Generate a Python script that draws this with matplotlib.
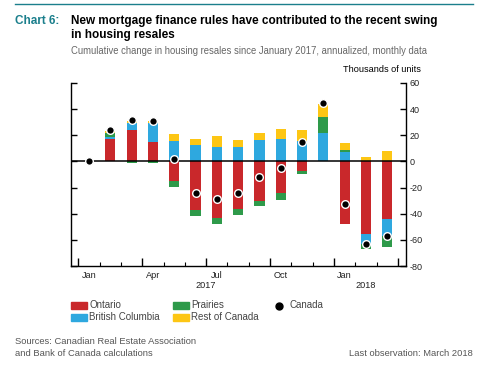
import numpy as np
import matplotlib
matplotlib.use('Agg')
import matplotlib.pyplot as plt
from matplotlib.patches import Rectangle
from matplotlib.lines import Line2D

plt.rcParams["font.family"] = ["Liberation Sans", "DejaVu Sans"]

months = ['Jan', 'Feb', 'Mar', 'Apr', 'May', 'Jun', 'Jul', 'Aug', 'Sep',
          'Oct', 'Nov', 'Dec', 'Jan', 'Feb', 'Mar']
ontario = [0, 17.0, 23.7, 14.8, -15.3, -37.5, -43.4, -36.2, -30.6, -24.0, -7.4, 0, -47.7, -55.4, -43.9]
british_columbia = [0, 1.5, 5.9, 14.8, 15.3, 12.2, 11.0, 11.0, 16.1, 17.3, 15.3, 21.9, 7.1, -7.7, -12.8]
prairies = [0, 3.0, -1.0, -1.0, -4.3, -4.3, -4.8, -4.6, -3.8, -5.8, -2.0, 12.0, 1.3, -3.8, -8.4]
rest_of_canada = [0, 1.5, 1.5, 1.5, 5.9, 5.1, 8.4, 5.1, 5.8, 7.2, 8.4, 10.2, 5.9, 3.3, 7.7]
canada = [0, 23.7, 31.4, 30.9, 2.0, -24.2, -28.6, -24.2, -12.2, -5.1, 14.8, 44.6, -32.9, -63.0, -57.1]

series = [
    ('Ontario', ontario, '#c9282b'),
    ('British Columbia', british_columbia, '#2ea8df'),
    ('Prairies', prairies, '#2e9a4a'),
    ('Rest of Canada', rest_of_canada, '#fdc614'),
]
teal = '#1b7f8c'
grey = '#555555'

fig = plt.figure(figsize=(4.96, 3.67), dpi=100)
ax = fig.add_axes([0.143, 0.275, 0.6755, 0.499])

x = np.arange(len(months))
pos = np.zeros(len(months))
neg = np.zeros(len(months))
for name, vals, color in series:
    v = np.array(vals, dtype=float)
    bottom = np.where(v >= 0, pos, neg)
    ax.bar(x, v, 0.48, bottom=bottom, color=color, linewidth=0, zorder=2)
    pos = pos + np.clip(v, 0, None)
    neg = neg + np.clip(v, None, 0)

ax.axhline(0, color='black', lw=1.1, zorder=3)
ax.plot(x, canada, 'o', color='black', markersize=5.5, markeredgecolor='white',
        markeredgewidth=1.0, zorder=4)

ax.set_xlim(-0.85, 14.88)
ax.set_ylim(-80, 60)
ax.spines['top'].set_visible(False)
for s in ['left', 'right', 'bottom']:
    ax.spines[s].set_linewidth(1.0)

ax.yaxis.tick_right()
ax.set_yticks(np.arange(-80, 61, 20))
ax.set_yticklabels([str(t) for t in range(-80, 61, 20)], fontsize=6.5, color='#222222')
ax.tick_params(axis='y', which='both', direction='in', length=4.5, width=1.0,
               left=True, right=True, labelleft=False, labelright=True, pad=2.5)

ax.set_xticks(np.arange(-0.5, 15, 3))
ax.set_xticks(np.arange(-0.5, 15, 1), minor=True)
ax.set_xticklabels([])
ax.tick_params(axis='x', which='major', direction='in', length=6, width=1.0)
ax.tick_params(axis='x', which='minor', direction='in', length=3, width=0.8)

for i in [0, 3, 6, 9, 12]:
    ax.text(i, -84, months[i], ha='center', va='top', fontsize=6.6, color='#222222')
ax.text(5.5, -91.5, '2017', ha='center', va='top', fontsize=6.6, color='#222222')
ax.text(13, -91.5, '2018', ha='center', va='top', fontsize=6.6, color='#222222')

# header
fig.add_artist(Line2D([15 / 496, 473 / 496], [1 - 4 / 367] * 2, color=teal, lw=1.0))
fig.text(15 / 496, 1 - 21 / 367, 'Chart 6:', color=teal, fontsize=8.5, fontweight='bold', va='center')
fig.text(71 / 496, 1 - 21 / 367, 'New mortgage finance rules have contributed to the recent swing',
         fontsize=8.5, fontweight='bold', va='center')
fig.text(71 / 496, 1 - 35 / 367, 'in housing resales', fontsize=8.5, fontweight='bold', va='center')
fig.text(71 / 496, 1 - 51 / 367,
         'Cumulative change in housing resales since January 2017, annualized, monthly data',
         fontsize=6.85, color='#666666', va='center')
fig.text(421 / 496, 1 - 69 / 367, 'Thousands of units', fontsize=6.6, ha='right', va='center')

# legend
leg_rows = [1 - 305.5 / 367, 1 - 317.5 / 367]
leg_items = [(71, 0, 'Ontario', '#c9282b'), (71, 1, 'British Columbia', '#2ea8df'),
             (173, 0, 'Prairies', '#2e9a4a'), (173, 1, 'Rest of Canada', '#fdc614')]
for px, row, label, color in leg_items:
    y = leg_rows[row]
    fig.add_artist(Rectangle((px / 496, y - 3 / 367), 16 / 496, 6.3 / 367, color=color,
                             transform=fig.transFigure))
    fig.text((px + 18) / 496, y, label, fontsize=7, color='#444444', va='center')
fig.add_artist(Line2D([279 / 496], [leg_rows[0]], marker='o', color='black', markersize=5,
                      transform=fig.transFigure))
fig.text(289 / 496, leg_rows[0], 'Canada', fontsize=7, color='#444444', va='center')

# footer
fig.text(15 / 496, 1 - 341 / 367, 'Sources: Canadian Real Estate Association',
         fontsize=6.75, color=grey, va='center')
fig.text(15 / 496, 1 - 353 / 367, 'and Bank of Canada calculations',
         fontsize=6.75, color=grey, va='center')
fig.text(473 / 496, 1 - 353 / 367, 'Last observation: March 2018',
         fontsize=6.75, color=grey, va='center', ha='right')

fig.savefig('out.png', dpi=100)
